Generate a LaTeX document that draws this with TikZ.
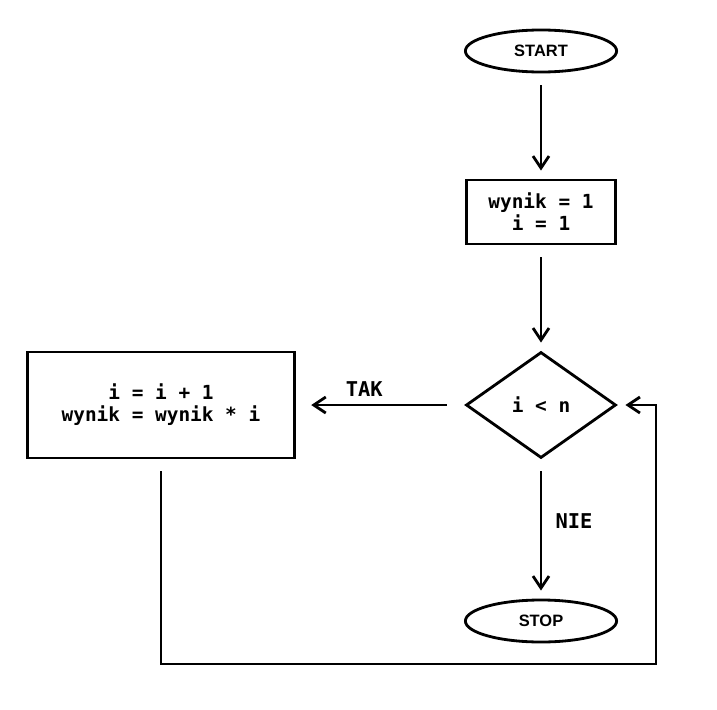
\documentclass[tikz,border=0pt]{standalone}
\usepackage{fontspec}
\setmonofont{DejaVu Sans Mono}
\setsansfont{Liberation Sans}
\usetikzlibrary{shapes.geometric,arrows.meta}

\begin{document}
\begin{tikzpicture}[x=0.025cm, y=-0.025cm, line width=2pt,
		>={Straight Barb[length=0.3cm,width=0.4cm,line width=2pt]},
		code/.style={font=\fontsize{13.8}{15.6}\selectfont\ttfamily\bfseries, align=center},
		term/.style={draw, ellipse, minimum width=3.78cm, minimum height=1.05cm, inner sep=0pt,
			font=\fontsize{11.7}{14}\selectfont\sffamily\bfseries},
		proc/.style={draw, rectangle, code, inner sep=0pt},
		decide/.style={draw, diamond, code, inner sep=0pt, minimum width=3.75cm, minimum height=2.65cm},
		flow/.style={->, shorten <=0.3cm, shorten >=0.2cm},
		lbl/.style={font=\fontsize{14.5}{16}\selectfont\ttfamily\bfseries}]
	\useasboundingbox (0,0) rectangle (717,710);
	
	% blocks
	\node[term] (start) at (541,51) {START};
	\node[proc, minimum width=3.73cm, minimum height=1.6cm] (init) at (541,212) {wynik = 1\\i = 1};
	\node[decide] (cond) at (541,405) {i < n};
	\node[proc, minimum width=6.68cm, minimum height=2.65cm] (calc) at (161,405) {i = i + 1\\wynik = wynik * i};
	\node[term] (stop) at (541,621) {STOP};
	\coordinate (loop) at (656,664);
	
	% connectors
	\draw[flow] (start) -- (init);
	\draw[flow] (init) -- (cond);
	\draw[flow, shorten <=0.45cm, shorten >=0.38cm] (cond) -- (calc)
		node[lbl, midway, above=2pt, xshift=-0.4cm] {TAK};
	\draw[flow] (cond) -- (stop) node[lbl, midway, right=6pt, yshift=0.2cm] {NIE};
	\draw[flow] (calc.south) |- (loop) |- (cond.east);
	
\end{tikzpicture}
\end{document}
